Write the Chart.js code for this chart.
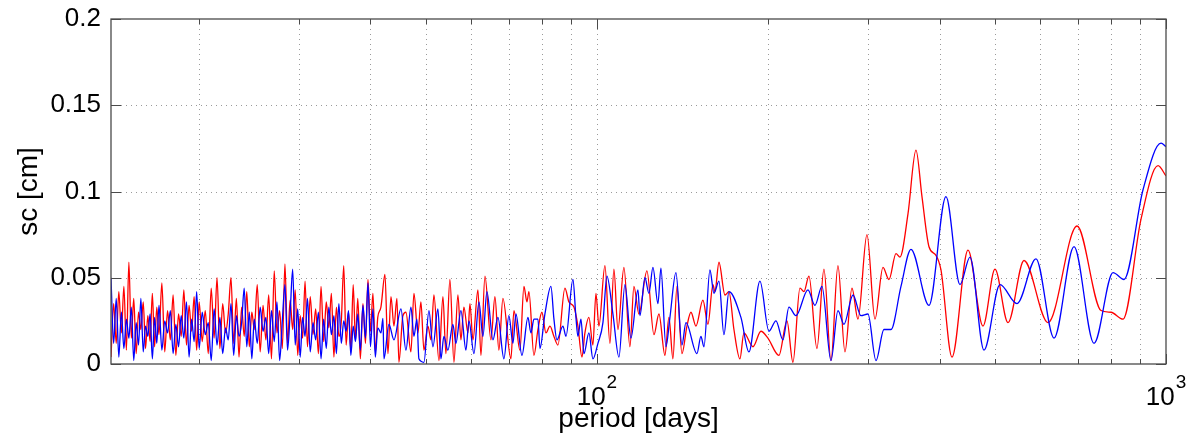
<!DOCTYPE html>
<html><head><meta charset="utf-8">
<script src="https://cdn.jsdelivr.net/npm/chart.js@4.4.1/dist/chart.umd.min.js"></script>
<style>html,body{margin:0;padding:0;background:#fff;}canvas{display:block;}</style>
</head><body>
<canvas id="c" width="1191" height="441"></canvas>
<script>
// ---- data (period in days, sc in cm) ----
const densePeriods = [14.0,14.15,14.3,14.45,14.6,14.75,14.9,15.05,15.2,15.35,
15.5,15.65,15.8,15.95,16.1,16.25,16.4,16.55,16.7,16.85,
17.0,17.2,17.4,17.6,17.8,18.0,18.2,18.4,18.6,18.8,
19.0,19.2,19.4,19.6,19.8,20.0,20.25,20.5,20.75,21.0,
21.25,21.5,21.75,22.0,22.25,22.5,22.75,23.0,23.25,23.5,
23.75,24.0,24.25,24.5,24.75,25.0,25.3,25.6,25.9,26.2,
26.5,26.8,27.1,27.4,27.7,28.0,28.3,28.6,28.9,29.2,
29.5,29.8,30.1,30.4,30.7,31.0,31.35,31.7,32.05,32.4,
32.75,33.1,33.45,33.8,34.15,34.5,34.85,35.2,35.55,35.9,
36.25,36.6,36.95,37.3,37.65,38.0,38.4,38.8,39.2,39.6,
40.0,40.4,40.8,41.2];
const denseRed = [0.004,0.035,0.012,0.042,0.018,0.045,0.008,0.059,0.015,0.038,
0.006,0.030,0.020,0.036,0.009,0.028,0.013,0.041,0.010,0.033,
0.017,0.047,0.007,0.031,0.014,0.040,0.005,0.029,0.016,0.043,
0.011,0.034,0.019,0.039,0.008,0.036,0.013,0.031,0.006,0.044,
0.015,0.050,0.009,0.035,0.018,0.029,0.050,0.012,0.038,0.004,
0.033,0.016,0.042,0.010,0.030,0.020,0.046,0.007,0.034,0.014,
0.040,0.003,0.054,0.018,0.031,0.009,0.058,0.012,0.037,0.020,
0.043,0.005,0.028,0.015,0.048,0.010,0.039,0.017,0.032,0.006,
0.045,0.013,0.036,0.021,0.041,0.004,0.033,0.016,0.025,0.057,
0.011,0.030,0.008,0.046,0.014,0.038,0.003,0.035,0.012,0.049,
0.019,0.041,0.007,0.027];
const denseBlue = [0.050,0.012,0.038,0.004,0.030,0.009,0.026,0.015,0.033,0.002,
0.024,0.011,0.038,0.007,0.022,0.016,0.029,0.003,0.027,0.012,
0.034,0.008,0.025,0.018,0.031,0.006,0.023,0.010,0.028,0.015,
0.036,0.004,0.026,0.013,0.042,0.009,0.030,0.017,0.024,0.002,
0.032,0.011,0.027,0.006,0.021,0.014,0.035,0.005,0.028,0.016,
0.024,0.044,0.010,0.030,0.003,0.026,0.012,0.033,0.019,0.027,
0.006,0.031,0.013,0.036,0.002,0.025,0.046,0.008,0.029,0.055,
0.011,0.032,0.004,0.027,0.016,0.038,0.007,0.024,0.014,0.030,
0.003,0.026,0.009,0.033,0.017,0.028,0.006,0.035,0.012,0.025,
0.019,0.031,0.005,0.022,0.013,0.029,0.008,0.034,0.015,0.047,
0.010,0.032,0.004,0.021];

const redTailPeriods = [41.73,42.42,42.93,43.46,43.99,44.52,44.88,45.61,46.17,47.12,
47.69,48.47,49.06,49.66,50.47,51.09,51.71,52.77,53.63,54.28,
55.17,56.07,56.98,57.68,58.38,59.34,59.82,60.55,61.79,62.54,
63.57,65.13,66.19,67.26,68.36,70.61,71.48,73.23,74.43,75.34,
75.95,77.50,78.77,80.05,81.36,82.69,84.04,85.40,87.86,89.29,
91.12,92.60,94.12,95.26,96.81,98.39,99.60,100.81,103.29,105.40,
107.12,108.87,111.55,114.29,116.15,118.53,122.43,125.95,128.52,131.67,
133.83,136.01,138.23,141.06,143.94,146.29,149.28,153.56,156.70,159.91,
161.21,163.84,167.87,170.61,174.09,178.36,181.27,188.00,194.19,199.76,
208.85,215.73,221.03,227.39,231.11,235.82,243.58,250.58,257.78,265.19,
272.81,280.65,287.55,298.22,308.03,318.16,325.99,335.36,340.82,352.04,
363.63,372.56,383.27,394.28,402.34,420.66,448.79,476.88,500.61,527.65,
562.94,620.38,697.63,768.78,800.53,840.37,903.87,968.25,1000];
const redTailValues = [0.033,0.052,0.006,0.039,0.022,0.038,0.001,0.028,0.030,0.007,
0.041,0.018,0.036,0.008,0.022,0.014,0.040,0.002,0.039,0.006,
0.049,0.001,0.040,0.014,0.033,0.018,0.035,0.014,0.043,0.005,
0.051,0.014,0.039,0.008,0.038,0.003,0.031,0.008,0.045,0.036,
0.042,0.005,0.020,0.030,0.018,0.022,0.016,0.011,0.044,0.036,
0.033,0.022,0.004,0.018,0.027,0.011,0.041,0.022,0.057,0.012,
0.055,0.020,0.056,0.010,0.045,0.029,0.054,0.017,0.029,0.005,
0.027,0.003,0.045,0.006,0.022,0.030,0.022,0.037,0.023,0.046,
0.042,0.059,0.040,0.042,0.020,0.003,0.018,0.010,0.019,0.015,
0.005,0.025,0.001,0.044,0.042,0.051,0.009,0.055,0.002,0.057,
0.007,0.044,0.026,0.075,0.026,0.056,0.049,0.064,0.062,0.087,
0.124,0.097,0.068,0.063,0.0545,0.004,0.066,0.022,0.055,0.024,
0.060,0.024,0.080,0.031,0.030,0.026,0.084,0.115,0.109];

const blueTailPeriods = [41.73,42.07,42.24,43.11,43.99,45.25,46.17,47.12,47.69,48.27,
48.66,49.66,50.68,51.51,52.55,53.19,53.84,54.72,55.84,56.52,
57.68,58.86,59.58,60.80,62.04,63.05,64.08,65.66,66.99,68.64,
70.04,71.19,72.06,73.83,75.65,76.57,77.50,78.77,79.41,81.03,
83.02,84.04,85.06,87.15,88.22,90.75,91.86,92.60,93.74,94.88,
96.81,98.39,100.41,102.46,104.13,106.69,109.31,112.00,114.75,118.05,
119.01,121.44,123.42,125.44,128.00,129.56,132.21,134.37,137.67,141.06,
143.36,149.88,152.33,154.19,157.98,160.55,163.84,167.19,170.61,179.09,
184.98,193.40,200.57,206.33,212.26,217.48,223.73,234.87,241.62,248.56,
257.78,265.19,271.71,281.79,291.06,299.43,309.28,319.45,328.64,342.20,
356.34,383.27,410.57,434.49,452.44,478.81,510.84,547.22,590.96,635.62,
689.21,747.31,807.04,843.78,911.22,980.08,1000];
const blueTailValues = [0.018,0.0265,0.003,0.023,0.014,0.032,0.008,0.033,0.016,0.026,
0.003,0.001,0.031,0.010,0.032,0.003,0.016,0.008,0.023,0.012,
0.031,0.008,0.025,0.006,0.036,0.016,0.042,0.014,0.027,0.003,
0.028,0.012,0.029,0.005,0.027,0.018,0.026,0.026,0.009,0.029,
0.045,0.026,0.014,0.022,0.016,0.049,0.027,0.016,0.026,0.006,
0.018,0.003,0.012,0.024,0.051,0.029,0.004,0.046,0.015,0.043,
0.028,0.050,0.041,0.056,0.035,0.0555,0.010,0.027,0.053,0.011,
0.024,0.006,0.016,0.010,0.0545,0.041,0.048,0.017,0.042,0.027,
0.007,0.048,0.019,0.025,0.014,0.033,0.028,0.043,0.034,0.045,
0.002,0.031,0.023,0.040,0.028,0.029,0.002,0.020,0.020,0.045,
0.0665,0.034,0.097,0.046,0.062,0.008,0.046,0.035,0.061,0.015,
0.068,0.012,0.053,0.049,0.101,0.128,0.126];

const xGridPeriods = [20,30,40,50,60,70,80,90,100,200,300,400,500,600,700,800,900];
const xMajorPeriods = [100,1000];
const xLabelBase = '10';
const xLabelExponents = ['2','3'];
const yTicks = [0,0.05,0.1,0.15,0.2];
const xMin = 14, xMax = 1000;

function toPoints(xs, ys){ return xs.map((p,i)=>({x:p, y:ys[i]})); }
const redData = toPoints(densePeriods.concat(redTailPeriods), denseRed.concat(redTailValues));
const blueData = toPoints(densePeriods.concat(blueTailPeriods), denseBlue.concat(blueTailValues));

const FONT = '"Liberation Sans", Arial, Helvetica, sans-serif';
const AXIS_COLOR = '#4a4a4a';

const framePlugin = {
  id: 'frame',
  beforeDatasetsDraw(chart){
    const {ctx, chartArea:a, scales:{x, y}} = chart;
    ctx.save();
    ctx.strokeStyle = '#9a9a9a';
    ctx.lineWidth = 1;
    ctx.setLineDash([1,4]);
    ctx.beginPath();
    xGridPeriods.forEach(p=>{
      const px = Math.round(x.getPixelForValue(p)) + 0.5;
      ctx.moveTo(px, a.top); ctx.lineTo(px, a.bottom);
    });
    yTicks.slice(1, -1).forEach(v=>{
      const py = Math.round(y.getPixelForValue(v)) + 0.5;
      ctx.moveTo(a.left, py); ctx.lineTo(a.right, py);
    });
    ctx.stroke();
    ctx.restore();
  },
  afterDatasetsDraw(chart){
    const {ctx, chartArea:a, scales:{x, y}} = chart;
    ctx.save();
    ctx.strokeStyle = AXIS_COLOR;
    ctx.lineWidth = 1.3;
    ctx.setLineDash([]);
    ctx.strokeRect(a.left, a.top, a.right - a.left, a.bottom - a.top);
    ctx.lineWidth = 1;
    ctx.beginPath();
    xGridPeriods.concat([1000]).forEach(p=>{
      const px = Math.round(x.getPixelForValue(p)) + 0.5;
      const len = xMajorPeriods.includes(p) ? 10 : 5;
      ctx.moveTo(px, a.bottom); ctx.lineTo(px, a.bottom - len);
      ctx.moveTo(px, a.top); ctx.lineTo(px, a.top + len);
    });
    yTicks.forEach(v=>{
      const py = Math.round(y.getPixelForValue(v)) + 0.5;
      ctx.moveTo(a.left, py); ctx.lineTo(a.left + 10, py);
      ctx.moveTo(a.right, py); ctx.lineTo(a.right - 10, py);
    });
    ctx.stroke();
    ctx.fillStyle = '#000';
    ctx.textAlign = 'left';
    ctx.textBaseline = 'alphabetic';
    xMajorPeriods.forEach((p,i)=>{
      const px = x.getPixelForValue(p);
      ctx.font = '26px ' + FONT;
      const w1 = ctx.measureText(xLabelBase).width;
      ctx.font = '19px ' + FONT;
      const w2 = ctx.measureText(xLabelExponents[i]).width;
      const left = px - (w1 + 1 + w2) / 2;
      ctx.font = '26px ' + FONT;
      ctx.fillText(xLabelBase, left, a.bottom + 41);
      ctx.font = '19px ' + FONT;
      ctx.fillText(xLabelExponents[i], left + w1 + 1, a.bottom + 24);
    });
    ctx.restore();
  }
};

new Chart(document.getElementById('c'), {
  type: 'line',
  data: {
    datasets: [
      { label: 'blue', data: blueData, borderColor: '#0000ff', borderWidth: 1.3,
        pointRadius: 0, fill: false, cubicInterpolationMode: 'monotone' },
      { label: 'red', data: redData, borderColor: '#ff0000', borderWidth: 1.3,
        pointRadius: 0, fill: false, cubicInterpolationMode: 'monotone' }
    ]
  },
  options: {
    responsive: false,
    animation: false,
    devicePixelRatio: 1,
    layout: { padding: { top: 19, right: 25, left: 0, bottom: 0 } },
    plugins: { legend: { display: false }, tooltip: { enabled: false } },
    scales: {
      x: {
        type: 'logarithmic', position: 'bottom', min: xMin, max: xMax,
        grid: { display: false }, border: { display: false },
        ticks: { display: false },
        title: { display: true, text: 'period [days]', color: '#000',
                 font: { family: FONT, size: 28 }, padding: { top: 0, bottom: 5 } },
        afterFit(s){ s.height = 77; s.paddingLeft = 0; s.paddingRight = 0; }
      },
      y: {
        type: 'linear', min: 0, max: 0.2,
        grid: { display: false, drawTicks: false }, border: { display: false },
        afterBuildTicks(s){ s.ticks = yTicks.map(v=>({value:v})); },
        ticks: { color: '#000', padding: 10, font: { family: FONT, size: 26 },
                 callback: v => String(+Number(v).toFixed(2)) },
        title: { display: true, text: 'sc [cm]', color: '#000',
                 font: { family: FONT, size: 28 }, padding: { top: 12, bottom: 0 } },
        afterFit(s){ s.width = 111; s.paddingTop = 0; s.paddingBottom = 0; }
      }
    }
  },
  plugins: [framePlugin]
});
</script>
</body></html>
